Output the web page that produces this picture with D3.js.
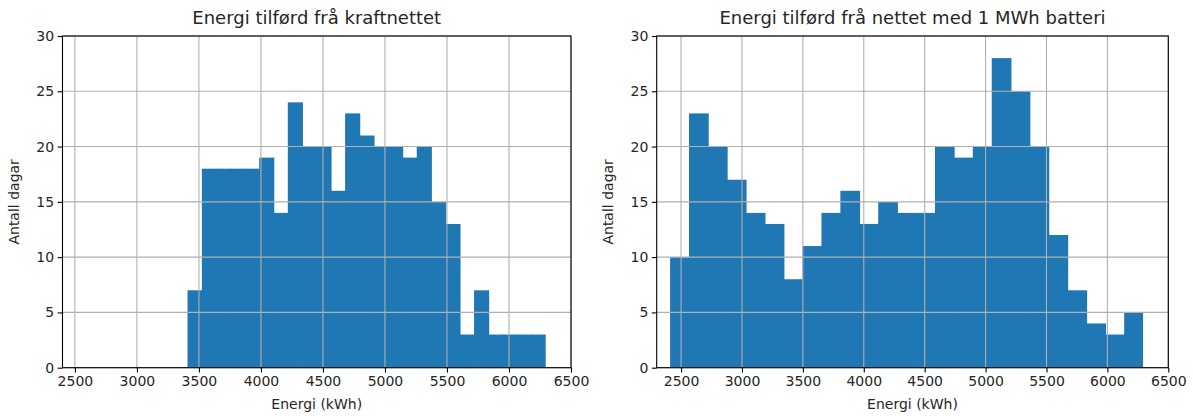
<!DOCTYPE html>
<html>
<head>
<meta charset="utf-8">
<script src="https://cdn.jsdelivr.net/npm/d3@7"></script>
<style>
  body { margin: 0; background: #fff; }
  svg { display: block; }
  text { font-family: "DejaVu Sans", sans-serif; fill: #262626; }
</style>
</head>
<body>
<svg id="chart" width="1193" height="416"></svg>
<script>
// ---- data ----
const titles = ["Energi tilførd frå kraftnettet", "Energi tilførd frå nettet med 1 MWh batteri"];
const xLabel = "Energi (kWh)";
const yLabel = "Antall dagar";
const xTicks = [2500, 3000, 3500, 4000, 4500, 5000, 5500, 6000, 6500];
const yTicks = [0, 5, 10, 15, 20, 25, 30];
const xLimits = [[2400, 6500], [2300, 6500]];
const yLimit = [0, 30];
// histogram range (min / max of the data) and counts in 25 equal bins
const gridRange = [3408, 6296];
const gridCounts = [7, 18, 18, 18, 18, 19, 14, 24, 20, 20, 16, 23, 21, 20, 20, 19, 20, 15, 13, 3, 7, 3, 3, 3, 3];
const batteryRange = [2410, 6293];
const batteryCounts = [10, 23, 20, 17, 14, 13, 8, 11, 14, 16, 13, 15, 14, 14, 20, 19, 20, 28, 25, 20, 12, 7, 4, 3, 5];

// ---- layout ----
const svg = d3.select("#chart");
const plotTop = 36, plotBottom = 367.7;
const panels = [
  { left: 62.5, right: 571, title: titles[0], xlim: xLimits[0], range: gridRange, counts: gridCounts },
  { left: 656.7, right: 1168.3, title: titles[1], xlim: xLimits[1], range: batteryRange, counts: batteryCounts }
];
const barColor = "#1f77b4";
const gridColor = "#b0b0b0";

panels.forEach(p => {
  const x = d3.scaleLinear().domain(p.xlim).range([p.left, p.right]);
  const y = d3.scaleLinear().domain(yLimit).range([plotBottom, plotTop]);
  const g = svg.append("g");
  const n = p.counts.length;
  const w = (p.range[1] - p.range[0]) / n;
  const bins = p.counts.map((c, i) => ({ x0: p.range[0] + i * w, x1: p.range[0] + (i + 1) * w, c }));

  // bars
  g.selectAll("rect.bar").data(bins).join("rect")
    .attr("class", "bar")
    .attr("x", d => x(d.x0))
    .attr("width", (d, i) => x(d.x1) - x(d.x0) + (i < n - 1 ? 0.8 : 0))
    .attr("y", d => y(d.c))
    .attr("height", d => y(0) - y(d.c))
    .attr("fill", barColor);

  // grid (drawn above bars, as in reference)
  g.selectAll("line.gx").data(xTicks).join("line")
    .attr("class", "gx")
    .attr("x1", d => x(d)).attr("x2", d => x(d))
    .attr("y1", plotTop).attr("y2", plotBottom)
    .attr("stroke", gridColor).attr("stroke-width", 1.1);
  g.selectAll("line.gy").data(yTicks).join("line")
    .attr("class", "gy")
    .attr("x1", p.left).attr("x2", p.right)
    .attr("y1", d => y(d)).attr("y2", d => y(d))
    .attr("stroke", gridColor).attr("stroke-width", 1.1);

  // axes
  const xAxis = d3.axisBottom(x).tickValues(xTicks).tickFormat(d3.format("d")).tickSize(4.9).tickPadding(3.5);
  const yAxis = d3.axisLeft(y).tickValues(yTicks).tickFormat(d3.format("d")).tickSize(4.9).tickPadding(3.5);
  const ax = g.append("g").attr("transform", `translate(0,${plotBottom})`).call(xAxis);
  const ay = g.append("g").attr("transform", `translate(${p.left},0)`).call(yAxis);
  [ax, ay].forEach(a => {
    a.select(".domain").remove();
    a.selectAll(".tick line").attr("stroke", "#000").attr("stroke-width", 1.1);
    a.selectAll(".tick text").attr("font-size", 14).attr("fill", "#262626")
      .style("font-family", "'DejaVu Sans', sans-serif");
  });

  // spines
  g.append("rect")
    .attr("x", p.left).attr("y", plotTop)
    .attr("width", p.right - p.left).attr("height", plotBottom - plotTop)
    .attr("fill", "none").attr("stroke", "#000").attr("stroke-width", 1.1);

  // title
  g.append("text")
    .attr("x", (p.left + p.right) / 2).attr("y", 24)
    .attr("text-anchor", "middle").attr("font-size", 18)
    .text(p.title);

  // axis labels
  g.append("text")
    .attr("x", (p.left + p.right) / 2).attr("y", 409)
    .attr("text-anchor", "middle").attr("font-size", 14)
    .text(xLabel);
  g.append("text")
    .attr("transform", `translate(${p.left - 44},${(plotTop + plotBottom) / 2}) rotate(-90)`)
    .attr("text-anchor", "middle").attr("font-size", 14)
    .text(yLabel);
});
</script>
</body>
</html>
